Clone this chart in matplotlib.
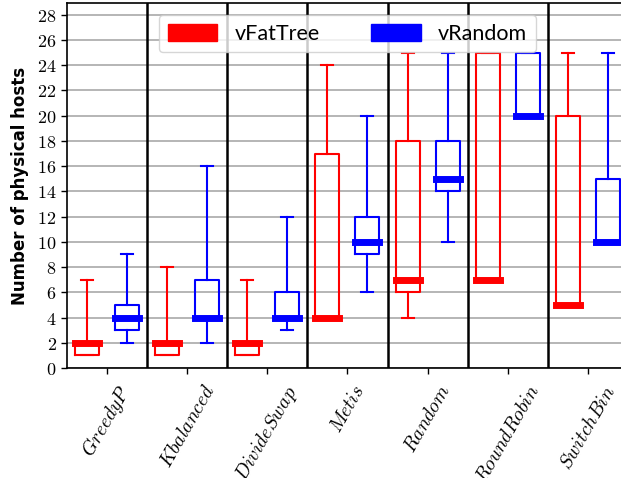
import matplotlib
matplotlib.use("Agg")
import matplotlib.pyplot as plt
from matplotlib.patches import Patch
from matplotlib.ticker import FuncFormatter, MultipleLocator

plt.rcParams["mathtext.fontset"] = "cm"

algorithms = ["GreedyP", "Kbalanced", "DivideSwap", "Metis", "Random", "RoundRobin", "SwitchBin"]

# five-number summaries (whisker low, Q1, median, Q3, whisker high)
fattree_lo = [1, 1, 1, 4, 4, 7, 5]
fattree_q1 = [1, 1, 1, 4, 6, 7, 5]
fattree_med = [2, 2, 2, 4, 7, 7, 5]
fattree_q3 = [2, 2, 2, 17, 18, 25, 20]
fattree_hi = [7, 8, 7, 24, 25, 25, 25]

random_lo = [2, 2, 3, 6, 10, 20, 10]
random_q1 = [3, 4, 4, 9, 14, 20, 10]
random_med = [4, 4, 4, 10, 15, 20, 10]
random_q3 = [5, 7, 6, 12, 18, 25, 15]
random_hi = [9, 16, 12, 20, 25, 25, 25]

series_names = ["vFatTree", "vRandom"]
series_colors = ["red", "blue"]


def make_stats(lo, q1, med, q3, hi):
    return [dict(whislo=a, q1=b, med=c, q3=d, whishi=e, fliers=[])
            for a, b, c, d, e in zip(lo, q1, med, q3, hi)]


fig = plt.figure(figsize=(6.21, 4.78), dpi=100)
ax = fig.add_axes([0.108, 0.230, 0.903, 0.763])

n = len(algorithms)
offsets = [-0.25, 0.25]
all_stats = [
    make_stats(fattree_lo, fattree_q1, fattree_med, fattree_q3, fattree_hi),
    make_stats(random_lo, random_q1, random_med, random_q3, random_hi),
]

for stats, off, col in zip(all_stats, offsets, series_colors):
    ax.bxp(stats, positions=[i + off for i in range(n)], widths=0.3,
           showfliers=False, manage_ticks=False,
           boxprops=dict(color=col, linewidth=1.5),
           whiskerprops=dict(color=col, linewidth=1.5),
           capprops=dict(color=col, linewidth=1.5),
           medianprops=dict(color=col, linewidth=5, solid_capstyle="projecting"),
           zorder=3)

# group separators
for i in range(n - 1):
    ax.axvline(i + 0.5, color="black", linewidth=1.8, zorder=2)

ax.set_xlim(-0.5, n - 0.5)
ax.set_ylim(0, 28.9)
ax.yaxis.set_major_locator(MultipleLocator(2))
ax.yaxis.set_major_formatter(FuncFormatter(lambda v, p: f"${int(round(v))}$"))
ax.grid(axis="y", color="#b5b5b5", linewidth=1.4, zorder=0)
ax.set_axisbelow(True)

ax.set_xticks(range(n))
ax.set_xticklabels([f"${a}$" for a in algorithms], rotation=60, fontsize=14)
ax.tick_params(axis="x", pad=6)
ax.tick_params(axis="y", labelsize=13)
ax.tick_params(axis="both", direction="out", length=4, width=1, color="black")

ax.set_ylabel("Number of physical hosts", fontsize=12, fontweight="bold",
              family="DejaVu Sans", labelpad=6)

for s in ax.spines.values():
    s.set_linewidth(1.2)
    s.set_color("black")

handles = [Patch(facecolor=c, edgecolor=c) for c in series_colors]
ax.legend(handles, series_names, loc="upper center", ncol=2,
          handlelength=2.3, handleheight=0.85, handletextpad=0.8,
          columnspacing=2.4, borderaxespad=0.55,
          prop={"family": "Lato", "size": 15.5})

fig.savefig("out.png", dpi=100)
